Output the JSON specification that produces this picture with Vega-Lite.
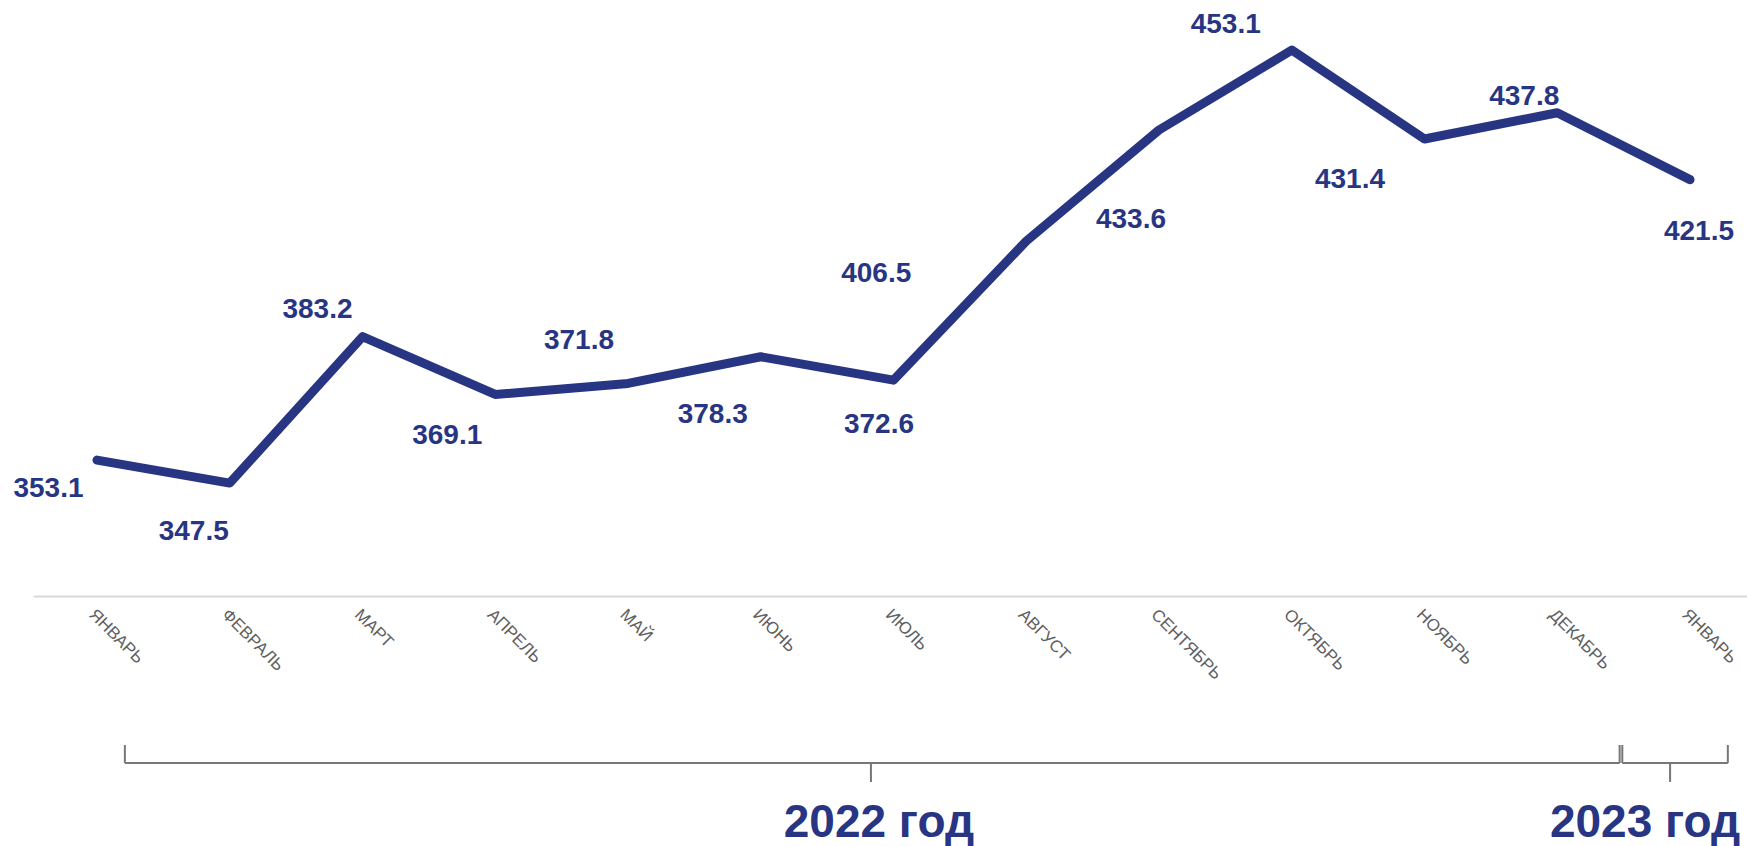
{
  "$schema": "https://vega.github.io/schema/vega-lite/v6.json",
  "width": 1714,
  "height": 846,
  "autosize": "none",
  "padding": {"left": 33, "right": 0, "top": 0, "bottom": 0},
  "background": "white",
  "config": {"view": {"stroke": null}, "font": "Liberation Sans"},
  "datasets": {
    "sales": [
      {"i": 0, "month": "ЯНВАРЬ", "year": 2022, "value": 353.1},
      {"i": 1, "month": "ФЕВРАЛЬ", "year": 2022, "value": 347.5},
      {"i": 2, "month": "МАРТ", "year": 2022, "value": 383.2},
      {"i": 3, "month": "АПРЕЛЬ", "year": 2022, "value": 369.1},
      {"i": 4, "month": "МАЙ", "year": 2022, "value": 371.8},
      {"i": 5, "month": "ИЮНЬ", "year": 2022, "value": 378.3},
      {"i": 6, "month": "ИЮЛЬ", "year": 2022, "value": 372.6},
      {"i": 7, "month": "АВГУСТ", "year": 2022, "value": 406.5},
      {"i": 8, "month": "СЕНТЯБРЬ", "year": 2022, "value": 433.6},
      {"i": 9, "month": "ОКТЯБРЬ", "year": 2022, "value": 453.1},
      {"i": 10, "month": "НОЯБРЬ", "year": 2022, "value": 431.4},
      {"i": 11, "month": "ДЕКАБРЬ", "year": 2022, "value": 437.8},
      {"i": 12, "month": "ЯНВАРЬ", "year": 2023, "value": 421.5}
    ],
    "years": [
      {"year": "2022 год", "start": 0.21, "end": 11.47, "mid": 5.83},
      {"year": "2023 год", "start": 11.49, "end": 12.285, "mid": 11.85}
    ]
  },
  "layer": [
    {
      "data": {"name": "sales"},
      "mark": {"type": "line", "color": "#283583", "strokeWidth": 9, "strokeCap": "round", "strokeJoin": "round"},
      "encoding": {
        "x": {
          "field": "i", "type": "quantitative",
          "scale": {"domain": [-0.4821, 12.4294], "nice": false, "zero": false},
          "axis": {
            "values": [0,1,2,3,4,5,6,7,8,9,10,11,12],
            "labelExpr": "['ЯНВАРЬ','ФЕВРАЛЬ','МАРТ','АПРЕЛЬ','МАЙ','ИЮНЬ','ИЮЛЬ','АВГУСТ','СЕНТЯБРЬ','ОКТЯБРЬ','НОЯБРЬ','ДЕКАБРЬ','ЯНВАРЬ'][datum.value]",
            "offset": -250,
            "domainColor": "#d9d9d9", "domainWidth": 2,
            "ticks": false, "grid": false, "title": null,
            "labelAngle": 45, "labelAlign": "left", "labelBaseline": "top",
            "labelPadding": 10, "labelFontSize": 17, "labelColor": "#606060",
            "labelFont": "Liberation Sans", "labelOverlap": false, "labelFlush": false
          }
        },
        "y": {"field": "value", "type": "quantitative", "scale": {"domain": [259, 465.3], "nice": false, "zero": false}, "axis": null}
      }
    },
    {
      "data": {"name": "sales"},
      "mark": {
        "type": "text", "font": "Liberation Sans", "fontWeight": "bold", "fontSize": 28,
        "color": "#283583", "align": "center", "baseline": "alphabetic",
        "dx": {"expr": "[-48.5,-36,-45,-48,-49,-48,-14.5,-150,-28,-66,-74.5,-33,9][datum.i]"},
        "dy": {"expr": "[37,57,-19,50,-34,66,53,41,98,-17,49,-8,60][datum.i]"}
      },
      "encoding": {
        "x": {"field": "i", "type": "quantitative", "scale": {"domain": [-0.4821, 12.4294], "nice": false, "zero": false}},
        "y": {"field": "value", "type": "quantitative", "scale": {"domain": [259, 465.3], "nice": false, "zero": false}, "axis": null},
        "text": {"field": "value", "type": "quantitative", "format": ".1f"}
      }
    },
    {
      "data": {"name": "years"},
      "mark": {"type": "rule", "color": "#777777", "strokeWidth": 2},
      "encoding": {
        "x": {"field": "start", "type": "quantitative", "scale": {"domain": [-0.4821, 12.4294], "nice": false, "zero": false}},
        "x2": {"field": "end"},
        "y": {"datum": 279.24, "type": "quantitative", "scale": {"domain": [259, 465.3], "nice": false, "zero": false}, "axis": null}
      }
    },
    {
      "data": {"name": "years"},
      "transform": [{"fold": ["start", "end"], "as": ["edge", "pos"]}],
      "mark": {"type": "rule", "color": "#777777", "strokeWidth": 2},
      "encoding": {
        "x": {"field": "pos", "type": "quantitative", "scale": {"domain": [-0.4821, 12.4294], "nice": false, "zero": false}},
        "y": {"datum": 279.24, "type": "quantitative", "scale": {"domain": [259, 465.3], "nice": false, "zero": false}, "axis": null},
        "y2": {"datum": 283.63}
      }
    },
    {
      "data": {"name": "years"},
      "mark": {"type": "rule", "color": "#777777", "strokeWidth": 2},
      "encoding": {
        "x": {"field": "mid", "type": "quantitative", "scale": {"domain": [-0.4821, 12.4294], "nice": false, "zero": false}},
        "y": {"datum": 279.24, "type": "quantitative", "scale": {"domain": [259, 465.3], "nice": false, "zero": false}, "axis": null},
        "y2": {"datum": 274.6}
      }
    },
    {
      "data": {"name": "years"},
      "mark": {
        "type": "text", "font": "Liberation Sans", "fontWeight": "bold", "fontSize": 46,
        "color": "#283583", "align": "center", "baseline": "alphabetic",
        "dx": {"expr": "datum.year == '2023 год' ? -25 : 8"}
      },
      "encoding": {
        "x": {"field": "mid", "type": "quantitative", "scale": {"domain": [-0.4821, 12.4294], "nice": false, "zero": false}},
        "y": {"datum": 261.2, "type": "quantitative", "scale": {"domain": [259, 465.3], "nice": false, "zero": false}, "axis": null},
        "text": {"field": "year", "type": "nominal"}
      }
    }
  ]
}
